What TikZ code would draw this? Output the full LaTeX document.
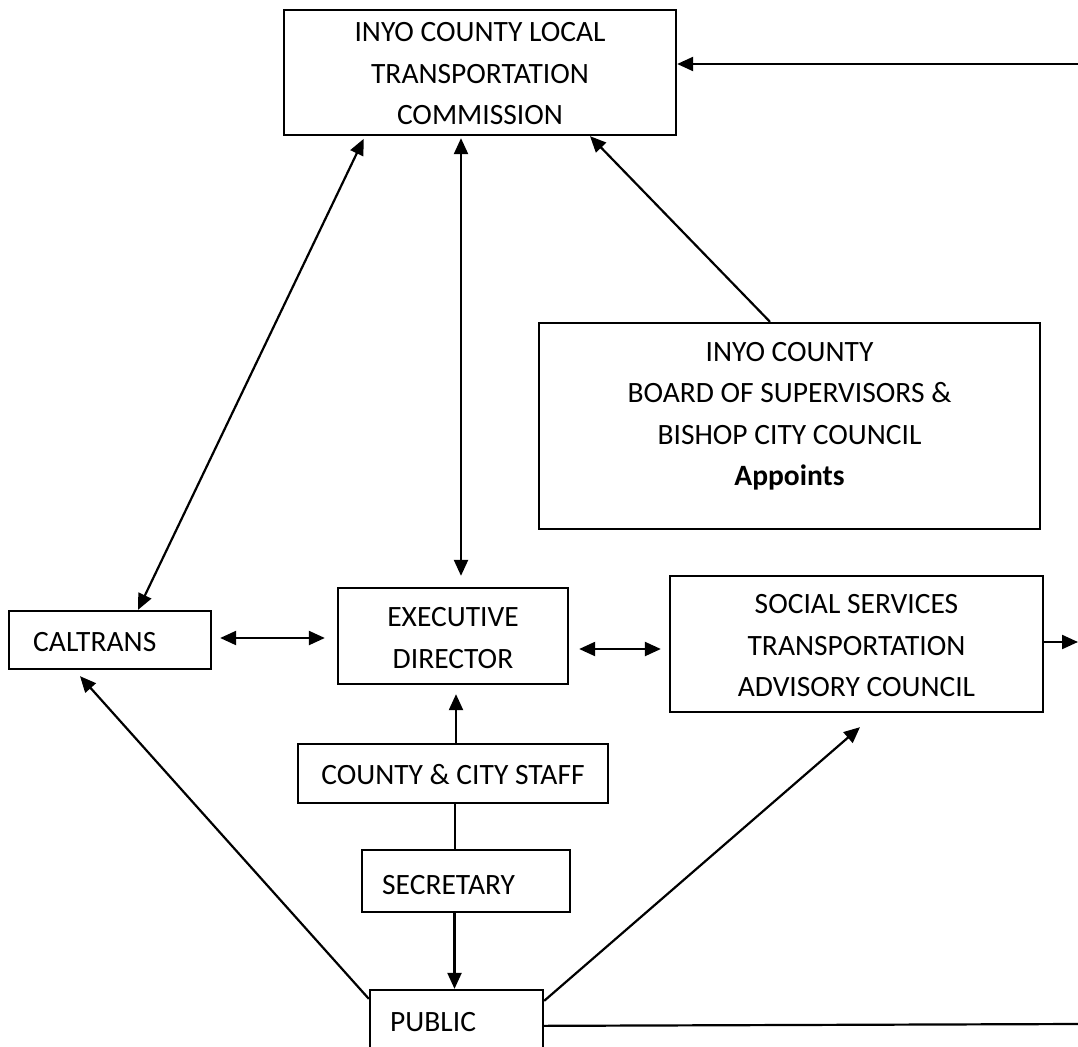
\documentclass[tikz,border=0pt]{standalone}
\usepackage{fontspec}
\setmainfont{Carlito}
\usetikzlibrary{arrows.meta,calc}
\tikzset{
  box/.style={draw, line width=2.3pt, inner sep=0pt},
  txt/.style={align=center, inner sep=0pt, font=\fontsize{29.5}{41.5}\selectfont},
  ltxt/.style={anchor=west, inner sep=0pt, font=\fontsize{29.5}{41.5}\selectfont},
  conn/.style={line width=2.2pt},
  arr/.style={conn, -{Triangle[length=16pt,width=14pt]}},
  darr/.style={conn, {Triangle[length=16pt,width=14pt]}-{Triangle[length=16pt,width=14pt]}}
}
\begin{document}
\begin{tikzpicture}[x=1pt,y=-1pt]
\useasboundingbox (0,0) rectangle (1078,1046);
\clip (0,0) rectangle (1078,1046);
% boxes
\node[box, minimum width=392, minimum height=125] (ltc) at (480,72.5) {};
\node[txt] at (480,74) {INYO COUNTY LOCAL\\TRANSPORTATION\\COMMISSION};
\node[box, minimum width=501, minimum height=206] (board) at (789.5,426) {};
\node[txt] at (789.5,416) {INYO COUNTY\\BOARD OF SUPERVISORS \&\\BISHOP CITY COUNCIL\\\textbf{Appoints}};
\node[box, minimum width=202, minimum height=58] (caltrans) at (110,640) {};
\node[ltxt] at (33,642) {CALTRANS};
\node[box, minimum width=230, minimum height=96] (exec) at (453,636) {};
\node[txt] at (453,638) {EXECUTIVE\\DIRECTOR};
\node[box, minimum width=373, minimum height=136] (sstac) at (856.5,644) {};
\node[txt] at (856.5,646) {SOCIAL SERVICES\\TRANSPORTATION\\ADVISORY COUNCIL};
\node[box, minimum width=310, minimum height=59] (staff) at (453,773.5) {};
\node[txt] at (453,775) {COUNTY \& CITY STAFF};
\node[box, minimum width=208, minimum height=62] (secr) at (466,881) {};
\node[ltxt] at (382,885) {SECRETARY};
\node[box, minimum width=173, minimum height=60] (public) at (456.5,1020) {};
\node[ltxt] at (390,1022) {PUBLIC};
% free ends
\coordinate (rin) at (1078,64);
\coordinate (rout) at (1078,642);
\coordinate (rlow) at (1078,1024);
% connectors
\draw[arr] (rin) -- (rin -| ltc.east);
\draw[arr] ([xshift=-19.5]board.north) -- ([xshift=110]ltc.south);
\draw[darr, shorten <=3pt] ([xshift=-115]ltc.south) -- ([xshift=28]caltrans.north);
\draw[darr, shorten <=2pt, shorten >=11pt] ([xshift=-19]ltc.south) -- ([xshift=8]exec.north);
\draw[darr, shorten <=8pt, shorten >=12pt] ([yshift=2]caltrans.east) -- ([yshift=2]caltrans.east -| exec.west);
\draw[darr, shorten <=10pt, shorten >=8pt] ([yshift=-13]exec.east) -- ([yshift=-13]exec.east -| sstac.west);
\draw[arr] ([yshift=2]sstac.east) -- ([yshift=2]sstac.east -| rout);
\draw[arr, shorten >=9pt] ([xshift=3]staff.north) -- ([xshift=3]exec.south);
\draw[conn] ([xshift=2]staff.south) -- ([xshift=2]staff.south |- secr.north);
\draw[arr] ([xshift=-2]public.north |- secr.south) -- ([xshift=-2]public.north);
\draw[arr] ([yshift=-10]public.north west) -- ([xshift=-30,yshift=-6]caltrans.south);
\draw[arr] ([yshift=-12]public.north east) -- ([xshift=3.5,yshift=-14]sstac.south);
\draw[conn] ([yshift=-37]public.north east) -- (rlow);
\end{tikzpicture}
\end{document}
